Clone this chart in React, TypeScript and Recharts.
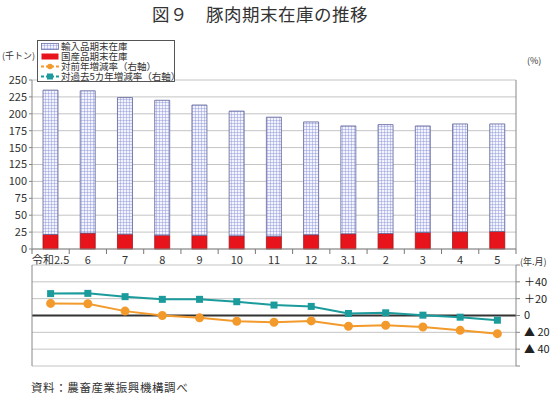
import { ComposedChart, Bar, Line, XAxis, YAxis, CartesianGrid, ReferenceLine } from "recharts";

const months = ["令和2.5", "6", "7", "8", "9", "10", "11", "12", "3.1", "2", "3", "4", "5"];
const domestic = [21.5, 23.5, 22, 20.5, 20, 19.5, 19, 21, 22.5, 23, 24.5, 25.5, 26];
const imported = [213.5, 210.5, 202, 199.5, 193, 184.5, 176, 167, 159.5, 161, 157.5, 159.5, 159];
const yoy = [14.4, 14, 5.2, 0, -2.8, -6.8, -8, -6.4, -12.8, -11.6, -13.6, -17.6, -21.6];
const vs5y = [26, 26.3, 22.4, 19.2, 19.2, 16.4, 12.4, 10.8, 2.4, 3.2, 0.4, -2, -5.6];

const leftTicks = [0, 25, 50, 75, 100, 125, 150, 175, 200, 225, 250];
const rightTicks = [-60, -40, -20, 0, 20, 40, 60];

const data = months.map((m, i) => ({
  month: m,
  domestic: domestic[i],
  imported: imported[i],
  yoy: yoy[i],
  vs5y: vs5y[i],
}));

const FONT = "'Noto Sans CJK JP', 'Noto Sans', sans-serif";
const ORANGE = "#f39a2c";
const TEAL = "#1b9b9c";
const GRID = "#c4c4c4";

function MonthTick(props: any) {
  const { x, y, payload, index, visibleTicksCount } = props;
  const off = payload.offset ?? 18.6;
  return (
    <g>
      <line x1={x - off} x2={x - off} y1={y} y2={y + 5} stroke="#777" />
      {index === visibleTicksCount - 1 && <line x1={x + off} x2={x + off} y1={y} y2={y + 5} stroke="#777" />}
      <text x={x} y={y + 7} dy="0.71em" textAnchor="middle" fontSize={11} fill="#333" fontFamily={FONT}>
        {payload.value}
      </text>
    </g>
  );
}

function SquareDot(props: any) {
  const { cx, cy } = props;
  if (cx == null || cy == null) return null;
  return <rect x={cx - 3.5} y={cy - 3.5} width={7} height={7} fill={TEAL} />;
}

function pctLabel(v: number) {
  if (v === 0) return "0";
  if (Math.abs(v) === 60) return "";
  return v > 0 ? `＋${v}` : `▲ ${-v}`;
}

function Swatch({ kind }: { kind: string }) {
  return (
    <svg width={18} height={9} style={{ marginRight: 2, flex: "none" }}>
      <defs>
        <pattern id="legGrid" width="3" height="3" patternUnits="userSpaceOnUse">
          <rect width="3" height="3" fill="#f4f4ff" />
          <path d="M0 0 H3 M0 0 V3" stroke="#7c86cf" strokeWidth="0.8" />
        </pattern>
      </defs>
      {kind === "imp" && <rect x={0.5} y={1.5} width={17} height={6} fill="url(#legGrid)" stroke="#6a70a8" strokeWidth={0.8} />}
      {kind === "dom" && <rect x={0.5} y={1.5} width={17} height={6} fill="#e8141c" />}
      {kind === "yoy" && (
        <g>
          <line x1={0} x2={18} y1={4.5} y2={4.5} stroke={ORANGE} strokeWidth={2} strokeDasharray="3 2" />
          <circle cx={9} cy={4.5} r={2.8} fill={ORANGE} />
        </g>
      )}
      {kind === "5y" && (
        <g>
          <line x1={0} x2={18} y1={4.5} y2={4.5} stroke={TEAL} strokeWidth={2} strokeDasharray="3 2" />
          <rect x={6} y={1.5} width={6} height={6} fill={TEAL} />
        </g>
      )}
    </svg>
  );
}

const legendItems = [
  { kind: "imp", label: "輸入品期末在庫" },
  { kind: "dom", label: "国産品期末在庫" },
  { kind: "yoy", label: "対前年増減率（右軸）" },
  { kind: "5y", label: "対過去5カ年増減率（右軸）" },
];

export default function App() {
  return (
    <div style={{ position: "absolute", left: 0, top: 0, width: 558, height: 395, background: "#fff", fontFamily: FONT, color: "#333" }}>
      <div style={{ position: "absolute", left: 0, top: 1, width: 520, textAlign: "center", fontSize: 17.5, letterSpacing: 0.5 }}>
        図９　豚肉期末在庫の推移
      </div>
      <div style={{ position: "absolute", left: 2, top: 49, fontSize: 9 }}>(千トン)</div>
      <div style={{ position: "absolute", left: 527, top: 54, fontSize: 9 }}>(%)</div>
      <div style={{ position: "absolute", left: 520, top: 255, fontSize: 9 }}>(年.月)</div>

      <div style={{ position: "absolute", left: 0, top: 0 }}>
        <ComposedChart width={558} height={280} data={data} margin={{ top: 80, right: 0, bottom: 0, left: 0 }} barSize={15}>
          <defs>
            <pattern id="impGrid" width="3" height="3" patternUnits="userSpaceOnUse">
              <rect width="3" height="3" fill="#f4f4ff" />
              <path d="M0 0 H3 M0 0 V3" stroke="#8089d2" strokeWidth="0.8" />
            </pattern>
          </defs>
          <CartesianGrid vertical={false} stroke={GRID} yAxisId="left" />
          <XAxis dataKey="month" height={31} tick={<MonthTick />} tickLine={false} tickSize={0} tickMargin={0} stroke="#888" interval={0} />
          <YAxis yAxisId="left" width={32} domain={[0, 250]} ticks={leftTicks} interval={0} tickSize={3} tickMargin={2} stroke="#888"
            tick={{ fontSize: 11, fill: "#333", fontFamily: FONT }} />
          <YAxis yAxisId="r" orientation="right" width={42} domain={[0, 250]} ticks={leftTicks} interval={0} tickSize={4}
            tickFormatter={() => ""} stroke="#888" />
          <Bar yAxisId="left" dataKey="domestic" stackId="a" fill="#e8141c" stroke="#a31217" strokeWidth={0.8} isAnimationActive={false} />
          <Bar yAxisId="left" dataKey="imported" stackId="a" fill="url(#impGrid)" stroke="#5d6296" strokeWidth={0.8} isAnimationActive={false} />
        </ComposedChart>
      </div>

      <div style={{ position: "absolute", left: 0, top: 255 }}>
        <ComposedChart width={558} height={115} data={data} margin={{ top: 10, right: 0, bottom: 4, left: 0 }}>
          <CartesianGrid vertical={false} stroke={GRID} yAxisId="right" />
          <XAxis dataKey="month" hide scale="band" />
          <YAxis yAxisId="left" width={32} domain={[-60, 60]} tick={false} tickLine={false} stroke="#888" />
          <YAxis yAxisId="right" orientation="right" width={42} domain={[-60, 60]} ticks={rightTicks} interval={0} tickSize={4} tickMargin={4}
            stroke="#888" tickFormatter={pctLabel} tick={{ fontSize: 11, fill: "#222", fontFamily: FONT, textAnchor: "start" }} />
          <ReferenceLine yAxisId="right" y={0} stroke="#333" strokeWidth={2} />
          <Line yAxisId="right" dataKey="vs5y" stroke={TEAL} strokeWidth={2} dot={<SquareDot />} isAnimationActive={false} />
          <Line yAxisId="right" dataKey="yoy" stroke={ORANGE} strokeWidth={2} dot={{ r: 3.5, fill: ORANGE, stroke: ORANGE }} isAnimationActive={false} />
        </ComposedChart>
      </div>

      <div style={{ position: "absolute", left: 37, top: 40, width: 138, height: 42, padding: "0 3px", boxSizing: "border-box", background: "#fff", border: "1px solid #555", fontSize: 9.5, lineHeight: "10px" }}>
        {legendItems.map((it) => (
          <div key={it.kind} style={{ display: "flex", alignItems: "center", whiteSpace: "nowrap", height: 10 }}>
            <Swatch kind={it.kind} />
            <span>{it.label}</span>
          </div>
        ))}
      </div>

      <div style={{ position: "absolute", left: 31, top: 379, fontSize: 11.5, letterSpacing: 0.6 }}>資料：農畜産業振興機構調べ</div>
    </div>
  );
}
